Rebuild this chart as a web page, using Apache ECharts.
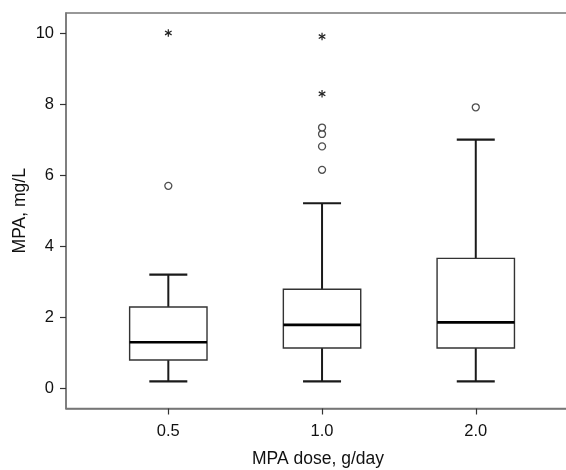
<!DOCTYPE html>
<html>
<head>
<meta charset="utf-8">
<script src="https://cdn.jsdelivr.net/npm/echarts@6/dist/echarts.min.js"></script>
<style>html,body{margin:0;padding:0;background:#fff;}#c{width:566px;height:470px;}</style>
</head>
<body>
<div id="c"></div>
<script>
var categories = ['0.5', '1.0', '2.0'];
var lowWhisker = [0.2, 0.2, 0.2];
var q1 = [0.8, 1.14, 1.14];
var median = [1.3, 1.79, 1.86];
var q3 = [2.29, 2.79, 3.66];
var highWhisker = [3.2, 5.21, 7.0];
var outlierCircles = [[0, 5.7], [1, 6.15], [1, 6.81], [1, 7.16], [1, 7.34], [2, 7.91]];
var extremeStars = [[0, 10.0], [1, 8.29], [1, 9.9]];
var yTicks = [0, 2, 4, 6, 8, 10];

var boxData = categories.map(function (c, i) {
  return [i, lowWhisker[i], q1[i], median[i], q3[i], highWhisker[i]];
});

var chart = echarts.init(document.getElementById('c'), null, {renderer: 'canvas'});
var frameColor = '#777';
var lineColor = '#1a1a1a';
var font = 'Liberation Sans, Arial, sans-serif';

chart.setOption({
  animation: false,
  grid: {left: 66, top: 13, right: -4, bottom: 61.5, show: true, borderColor: frameColor, borderWidth: 1.5,
    backgroundColor: 'transparent', containLabel: false, outerBoundsMode: 'none'},
  xAxis: {
    type: 'value', min: -0.6656, max: 2.613,
    name: 'MPA dose, g/day', nameLocation: 'middle', nameGap: 42, nameMoveOverlap: false,
    nameTextStyle: {fontSize: 17.5, color: '#111', fontFamily: font},
    axisLine: {show: true, onZero: false, lineStyle: {color: frameColor, width: 1.5}},
    axisTick: {show: true, length: 6, customValues: [0, 1, 2], lineStyle: {color: '#333', width: 1.2}},
    axisLabel: {customValues: [0, 1, 2], margin: 14, fontSize: 16.5, color: '#111', fontFamily: font,
      formatter: function (v) { return categories[Math.round(v)]; }},
    splitLine: {show: false}
  },
  yAxis: {
    type: 'value', min: -0.563, max: 10.562,
    name: 'MPA, mg/L', nameLocation: 'middle', nameGap: 37, nameMoveOverlap: false,
    nameTextStyle: {fontSize: 17.5, color: '#111', fontFamily: font},
    axisLine: {show: true, onZero: false, lineStyle: {color: frameColor, width: 1.5}},
    axisTick: {show: true, length: 6, customValues: yTicks, lineStyle: {color: '#333', width: 1.2}},
    axisLabel: {customValues: yTicks, margin: 12, fontSize: 16.5, color: '#111', fontFamily: font},
    splitLine: {show: false}
  },
  series: [
    {
      type: 'custom',
      data: boxData,
      renderItem: function (params, api) {
        var x = api.value(0);
        var unit = api.size([1, 0])[0];
        var hw = unit * 0.2517;
        var cw = unit * 0.1236;
        var pLow = api.coord([x, api.value(1)]);
        var pQ1 = api.coord([x, api.value(2)]);
        var pMed = api.coord([x, api.value(3)]);
        var pQ3 = api.coord([x, api.value(4)]);
        var pHigh = api.coord([x, api.value(5)]);
        var cx = pLow[0];
        return {
          type: 'group',
          children: [
            {type: 'line', shape: {x1: cx, y1: pLow[1], x2: cx, y2: pQ1[1]}, style: {stroke: lineColor, lineWidth: 2}},
            {type: 'line', shape: {x1: cx, y1: pQ3[1], x2: cx, y2: pHigh[1]}, style: {stroke: lineColor, lineWidth: 2}},
            {type: 'line', shape: {x1: cx - cw, y1: pLow[1], x2: cx + cw, y2: pLow[1]}, style: {stroke: lineColor, lineWidth: 2.2}},
            {type: 'line', shape: {x1: cx - cw, y1: pHigh[1], x2: cx + cw, y2: pHigh[1]}, style: {stroke: lineColor, lineWidth: 2.2}},
            {type: 'rect', shape: {x: cx - hw, y: pQ3[1], width: 2 * hw, height: pQ1[1] - pQ3[1]}, style: {fill: '#fff', stroke: '#333', lineWidth: 1.4}},
            {type: 'line', shape: {x1: cx - hw, y1: pMed[1], x2: cx + hw, y2: pMed[1]}, style: {stroke: '#000', lineWidth: 2.6}}
          ]
        };
      }
    },
    {
      type: 'scatter',
      data: outlierCircles,
      symbol: 'circle',
      symbolSize: 7,
      itemStyle: {color: '#fff', borderColor: '#222', borderWidth: 1.3}
    },
    {
      type: 'custom',
      data: extremeStars,
      renderItem: function (params, api) {
        var p = api.coord([api.value(0), api.value(1)]);
        var r = 3.8;
        var kids = [];
        for (var k = 0; k < 3; k++) {
          var a = Math.PI / 2 + k * Math.PI / 3;
          kids.push({type: 'line', shape: {x1: p[0] - r * Math.cos(a), y1: p[1] - r * Math.sin(a), x2: p[0] + r * Math.cos(a), y2: p[1] + r * Math.sin(a)}, style: {stroke: '#222', lineWidth: 1.2}});
        }
        return {type: 'group', children: kids};
      }
    }
  ]
});
</script>
</body>
</html>
